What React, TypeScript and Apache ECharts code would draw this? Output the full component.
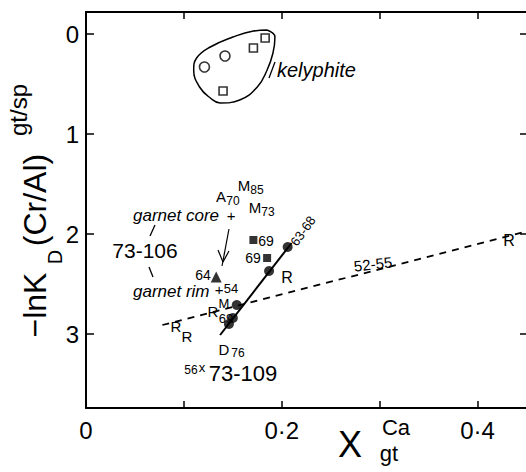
import React, { useEffect, useRef } from "react";
import * as echarts from "echarts";

// ---- data ----
const xTicks = [0, 0.1, 0.2, 0.3, 0.4];
const xLabelValues = [0, 0.2, 0.4];
const yTicks = [0, 1, 2, 3];

const kelyphiteCircles = [
  [0.121, 0.33],
  [0.142, 0.22],
];
const kelyphiteSquares = [
  [0.171, 0.14],
  [0.183, 0.04],
  [0.14, 0.57],
];
const filledCircles = [
  [0.206, 2.13],
  [0.187, 2.37],
  [0.154, 2.71],
  [0.15, 2.84],
  [0.146, 2.9],
];
const filledSquares = [
  [0.171, 2.06],
  [0.185, 2.24],
];
const filledTriangles = [[0.133, 2.43]];
const solidTrend = [
  [0.137, 3.01],
  [0.21, 2.09],
];
const dashedTrend = [
  [0.078, 2.91],
  [0.452, 1.97],
];
const kelyphiteOutline = [
  [0.185, -0.04],
  [0.193, 0.03],
  [0.191, 0.19],
  [0.185, 0.36],
  [0.175, 0.53],
  [0.157, 0.66],
  [0.137, 0.69],
  [0.127, 0.64],
  [0.116, 0.53],
  [0.11, 0.36],
  [0.113, 0.24],
  [0.127, 0.13],
  [0.15, 0.03],
  [0.171, -0.03],
  [0.185, -0.04],
];

const FONT = '"Liberation Sans", Arial, sans-serif';

function txt(
  text: string,
  x: number,
  y: number,
  size: number,
  opts: { italic?: boolean; align?: string; rotation?: number } = {}
) {
  return {
    type: "text",
    x,
    y,
    rotation: opts.rotation || 0,
    silent: true,
    style: {
      text,
      fill: "#000",
      font: `${opts.italic ? "italic " : ""}${size}px ${FONT}`,
      textAlign: opts.align || "center",
      textVerticalAlign: "middle",
    },
  };
}

function seg(x1: number, y1: number, x2: number, y2: number, w = 1.3) {
  return {
    type: "line",
    silent: true,
    shape: { x1, y1, x2, y2 },
    style: { stroke: "#000", lineWidth: w },
  };
}

export default function App() {
  const ref = useRef<HTMLDivElement>(null);
  useEffect(() => {
    if (!ref.current) return;
    const chart = echarts.init(ref.current, null, { renderer: "svg" });
    const axisCommon = {
      type: "value",
      min: 0,
      max: 0.4515,
      axisLine: { show: true, onZero: false, lineStyle: { color: "#000", width: 2 } },
      splitLine: { show: false },
    };
    const yCommon = {
      type: "value",
      inverse: true,
      min: -0.22,
      max: 3.74,
      axisLine: { show: true, onZero: false, lineStyle: { color: "#000", width: 2 } },
      splitLine: { show: false },
    };
    chart.setOption({
      animation: false,
      backgroundColor: "#fff",
      grid: { left: 86, top: 12, width: 442, height: 396, containLabel: false, outerBoundsMode: "none" },
      xAxis: [
        {
          ...axisCommon,
          position: "bottom",
          axisTick: { show: true, inside: true, length: 7, customValues: xTicks, lineStyle: { color: "#000", width: 1.5 } },
          axisLabel: {
            show: true,
            customValues: xLabelValues,
            margin: 10,
            fontSize: 24,
            fontFamily: FONT,
            color: "#000",
            formatter: (v: number) => (v === 0 ? "0" : String(v).replace(".", "·")),
          },
        },
        {
          ...axisCommon,
          position: "top",
          axisTick: { show: true, inside: true, length: 7, customValues: xTicks, lineStyle: { color: "#000", width: 1.5 } },
          axisLabel: { show: false },
        },
      ],
      yAxis: [
        {
          ...yCommon,
          position: "left",
          axisTick: { show: true, inside: true, length: 8, customValues: yTicks, lineStyle: { color: "#000", width: 1.5 } },
          axisLabel: {
            show: true,
            customValues: yTicks,
            margin: 7,
            fontSize: 24,
            fontFamily: FONT,
            color: "#000",
          },
        },
        {
          ...yCommon,
          position: "right",
          axisTick: { show: true, inside: true, length: 8, customValues: yTicks, lineStyle: { color: "#000", width: 1.5 } },
          axisLabel: { show: false },
        },
      ],
      series: [
        {
          type: "line",
          data: kelyphiteOutline,
          smooth: 0.45,
          symbol: "none",
          lineStyle: { color: "#000", width: 1.5 },
          silent: true,
          z: 2,
        },
        {
          type: "line",
          data: dashedTrend,
          symbol: "none",
          lineStyle: { color: "#000", width: 1.8, type: [7, 6] },
          silent: true,
          z: 2,
        },
        {
          type: "line",
          data: solidTrend,
          symbol: "none",
          lineStyle: { color: "#000", width: 2 },
          silent: true,
          z: 2,
        },
        {
          type: "scatter",
          data: kelyphiteCircles,
          symbol: "circle",
          symbolSize: 10,
          itemStyle: { color: "#fff", borderColor: "#000", borderWidth: 1.6 },
          z: 3,
        },
        {
          type: "scatter",
          data: kelyphiteSquares,
          symbol: "rect",
          symbolSize: 8,
          itemStyle: { color: "#fff", borderColor: "#000", borderWidth: 1.6 },
          z: 3,
        },
        {
          type: "scatter",
          data: filledCircles,
          symbol: "circle",
          symbolSize: 10,
          itemStyle: { color: "#000" },
          z: 3,
        },
        {
          type: "scatter",
          data: filledSquares,
          symbol: "rect",
          symbolSize: 8,
          itemStyle: { color: "#000" },
          z: 3,
        },
        {
          type: "scatter",
          data: filledTriangles,
          symbol: "triangle",
          symbolSize: 11,
          itemStyle: { color: "#000" },
          z: 3,
        },
      ],
      graphic: [
        // y-axis title (rotated)
        txt("−lnK", 35, 305, 32, { rotation: Math.PI / 2 }),
        txt("D", 55, 257, 20, { rotation: Math.PI / 2 }),
        txt("(Cr/Al)", 35, 200, 32, { rotation: Math.PI / 2 }),
        txt("gt/sp", 18, 110, 24, { rotation: Math.PI / 2 }),
        // x-axis title
        txt("X", 350, 444, 36),
        txt("Ca", 396, 427, 22),
        txt("gt", 389, 453, 22),
        // kelyphite
        seg(269, 78, 275, 62, 1.3),
        txt("kelyphite", 277, 70, 20, { italic: true, align: "left" }),
        // labels in cluster
        txt("M", 244, 185, 15),
        txt("85", 257, 190, 12),
        txt("A", 221, 196, 15),
        txt("70", 233, 201, 12),
        txt("M", 255, 207, 15),
        txt("73", 268, 212, 12),
        txt("garnet core", 133, 215, 17, { italic: true, align: "left" }),
        txt("+", 231, 215, 15),
        seg(150, 236, 155, 225),
        txt("73-106", 145, 250, 21),
        seg(149, 267, 153, 277),
        txt("garnet rim", 133, 291, 17, { italic: true, align: "left" }),
        txt("+", 219, 289, 15),
        txt("54", 231, 288.5, 13),
        // arrow
        seg(229, 229, 222, 266, 1.2),
        seg(223, 262, 218, 250, 1.2),
        seg(223, 262, 229, 251, 1.2),
        txt("64", 203, 275, 14),
        txt("69", 266, 241, 14),
        txt("69", 253, 258, 14),
        txt("R", 287, 277, 16),
        txt("63-68", 303, 231, 13, { rotation: 0.95 }),
        txt("52-55", 373, 264, 15, { rotation: 0.12 }),
        txt("R", 509, 240, 16),
        txt("R", 176, 326, 15),
        txt("R", 187, 336, 15),
        txt("R", 213, 311, 15),
        txt("M", 224, 303, 13),
        txt("69", 226, 318, 13),
        txt("D", 224, 349, 15),
        txt("76", 238, 353, 12),
        txt("56", 191, 370, 12),
        txt("x", 202, 367, 13),
        txt("73-109", 243, 373, 22),
      ],
    });
    return () => chart.dispose();
  }, []);
  return (
    <div style={{ position: "fixed", left: 0, top: 0, width: 526, height: 472, overflow: "hidden", background: "#fff" }}>
      <div ref={ref} style={{ width: 540, height: 472 }} />
    </div>
  );
}
